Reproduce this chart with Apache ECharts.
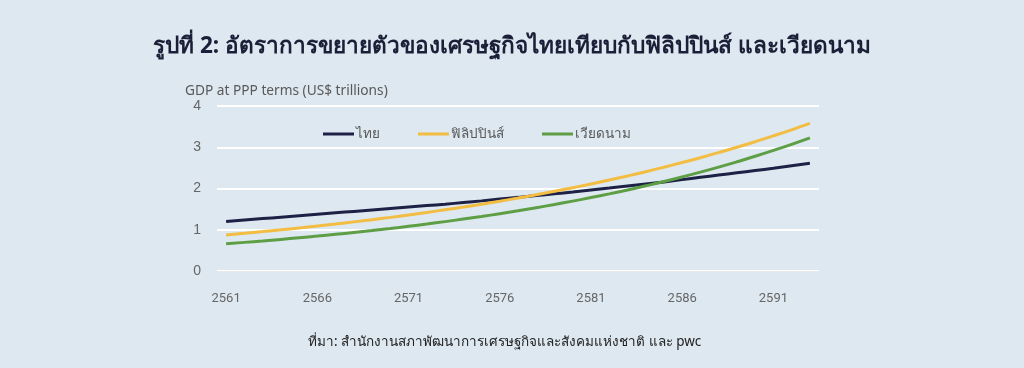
<!DOCTYPE html>
<html>
<head>
<meta charset="utf-8">
<script src="https://cdn.jsdelivr.net/npm/echarts@6/dist/echarts.min.js"></script>
<style>
html,body{margin:0;padding:0;background:#dde8f0;}
#c{width:1024px;height:368px;}
</style>
</head>
<body>
<div id="c"></div>
<script>
const years = ['2561','2562','2563','2564','2565','2566','2567','2568','2569','2570','2571','2572','2573','2574','2575','2576','2577','2578','2579','2580','2581','2582','2583','2584','2585','2586','2587','2588','2589','2590','2591','2592','2593'];
const thailand = [1.20,1.235,1.27,1.305,1.34,1.375,1.41,1.445,1.48,1.515,1.55,1.585,1.62,1.66,1.70,1.745,1.785,1.83,1.87,1.915,1.965,2.01,2.06,2.11,2.16,2.215,2.27,2.325,2.38,2.435,2.49,2.55,2.61];
const philippines = [0.875,0.914,0.955,0.998,1.043,1.090,1.139,1.191,1.244,1.300,1.359,1.420,1.484,1.550,1.620,1.693,1.769,1.849,1.932,2.019,2.110,2.205,2.304,2.407,2.516,2.629,2.747,2.871,3.000,3.135,3.276,3.423,3.577];
const vietnam = [0.660,0.694,0.729,0.766,0.805,0.846,0.889,0.934,0.981,1.031,1.084,1.139,1.197,1.258,1.321,1.389,1.459,1.534,1.612,1.694,1.780,1.870,1.965,2.065,2.170,2.281,2.397,2.519,2.647,2.781,2.923,3.071,3.228];
const seriesNames = ['ไทย','ฟิลิปปินส์','เวียดนาม'];
const colors = ['#1e2146','#f2bd42','#5e9f46'];
const yTicks = {min:0, max:4, interval:1};

const chart = echarts.init(document.getElementById('c'), null, {renderer:'canvas'});
const mk = (name, data, color) => ({
  name, type:'line', data, smooth:true, symbol:'none',
  lineStyle:{color, width:3}, itemStyle:{color}
});
chart.setOption({
  backgroundColor:'#dde8f0',
  animation:false,
  title:[
    {text:'รูปที่ 2: อัตราการขยายตัวของเศรษฐกิจไทยเทียบกับฟิลิปปินส์ และเวียดนาม', left:'center', top:30,
     textStyle:{fontSize:22.6, fontWeight:'bold', color:'#1c1f38', fontFamily:'Noto Sans, sans-serif'}},
    {text:'GDP at PPP terms (US$ trillions)', left:180, top:79,
     textStyle:{fontSize:13.7, fontWeight:'normal', color:'#595959', fontFamily:'Noto Sans, sans-serif'}},
    {text:'ที่มา: สำนักงานสภาพัฒนาการเศรษฐกิจและสังคมแห่งชาติ และ pwc', left:303, top:330,
     textStyle:{fontSize:13.5, fontWeight:'normal', color:'#222222', fontFamily:'Noto Sans, sans-serif'}}
  ],
  legend:{
    left:318, top:122, itemWidth:31, itemHeight:3, itemGap:38,
    icon:'rect',
    textStyle:{fontSize:13.5, color:'#595959', padding:[0,0,0,-3]},
    data:seriesNames
  },
  grid:{left:217, right:205, top:106, bottom:97, containLabel:false},
  xAxis:{
    type:'category', data:years, boundaryGap:true,
    axisLine:{show:true, lineStyle:{color:'#e6e9ec', width:1}},
    axisTick:{show:false},
    axisLabel:{interval:4, color:'#666666', fontSize:13, margin:21, fontFamily:'Liberation Sans Narrow, Roboto, sans-serif'},
    splitLine:{show:false}
  },
  yAxis:{
    type:'value', min:yTicks.min, max:yTicks.max, interval:yTicks.interval,
    axisLine:{show:false}, axisTick:{show:false},
    axisLabel:{color:'#666666', fontSize:14, margin:16},
    splitLine:{lineStyle:{color:'#ffffff', width:2}}
  },
  series:[
    mk(seriesNames[0], thailand, colors[0]),
    mk(seriesNames[1], philippines, colors[1]),
    mk(seriesNames[2], vietnam, colors[2])
  ]
});
</script>
</body>
</html>
